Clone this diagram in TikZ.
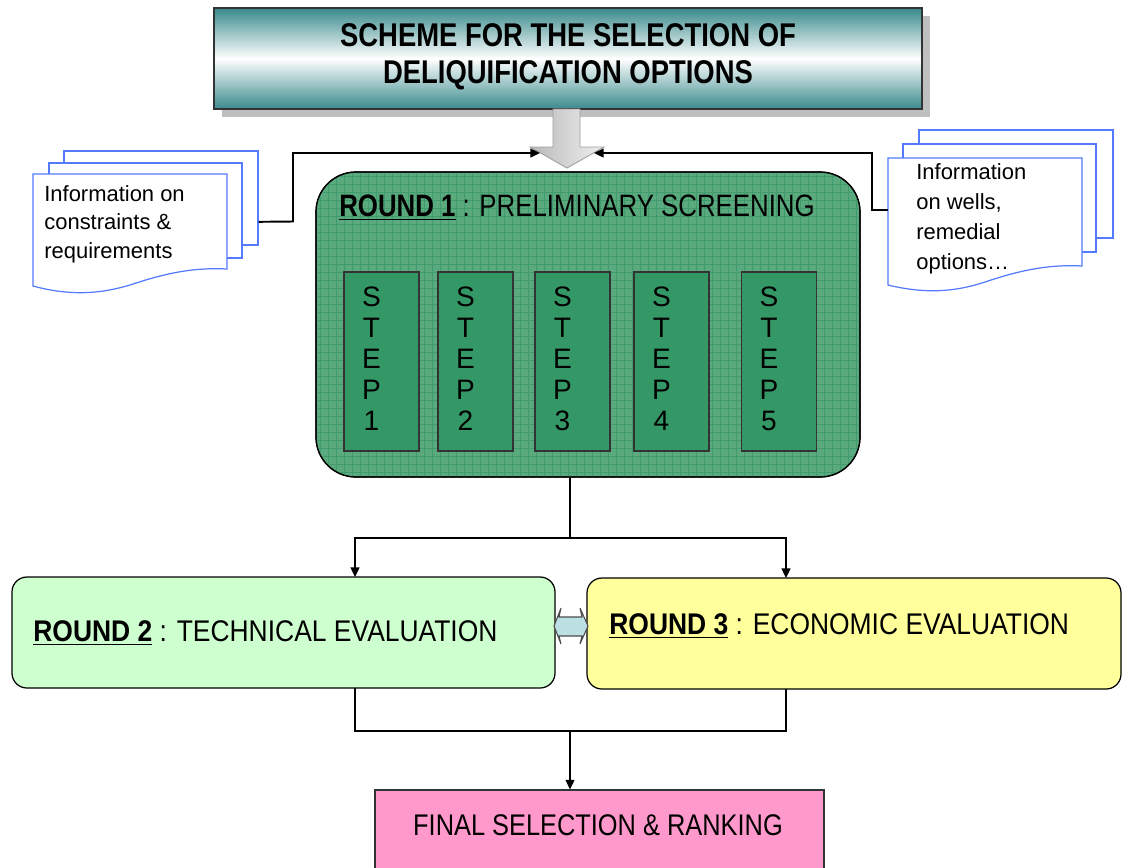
\documentclass[tikz,border=0pt]{standalone}
\usepackage{fontspec}
\usepackage{graphicx}
\setmainfont{Liberation Sans}
\usetikzlibrary{arrows.meta,calc}

\definecolor{titleteal}{RGB}{58,138,140}
\definecolor{roundonefill}{RGB}{90,170,126}
\definecolor{roundonegrid}{RGB}{64,156,110}
\definecolor{stepfill}{RGB}{52,152,102}
\definecolor{roundtwofill}{RGB}{206,255,206}
\definecolor{roundthreefill}{RGB}{255,255,156}
\definecolor{finalfill}{RGB}{255,153,204}
\definecolor{docblue}{RGB}{84,122,255}
\definecolor{linkfill}{RGB}{188,224,228}

% horizontally condensed text
\newcommand\hsq[2][0.84]{\scalebox{#1}[1]{#2}}
\newcommand\fsz[2]{\fontsize{#1pt}{#2pt}\selectfont}

\begin{document}
\begin{tikzpicture}[x=0.02cm,y=-0.02cm,
  pxbox/.style 2 args={minimum width=#1*0.02cm, minimum height=#2*0.02cm, inner sep=0pt},
  titlebox/.style={draw=black!80, line width=0.6pt, top color=titleteal, bottom color=titleteal, middle color=white},
  shadowbox/.style={fill=gray!50, draw=none},
  docsheet/.style={draw=docblue, fill=white, line width=0.7pt},
  doctext/.style={font=\fsz{12.5}{16.3}, align=left, anchor=west, inner sep=0pt},
  roundone/.style={draw=black, line width=0.7pt, fill=roundonefill, rounded corners=22.7pt},
  stepbox/.style={draw=black!80, fill=stepfill, line width=0.6pt},
  steptext/.style={font=\fsz{16}{17.6}, align=center, inner sep=0pt},
  evalbox/.style={draw=black, line width=0.7pt, rounded corners=8.5pt},
  evaltext/.style={font=\fsz{17}{20}, anchor=west, inner sep=0pt},
  finalbox/.style={draw=black!80, fill=finalfill, line width=0.6pt},
  link/.style={draw=black, line width=1.1pt},
  tip/.style={-{Triangle[length=5.5pt,width=5pt]}},
  bigarrow/.style={draw=gray!75, line width=0.5pt, left color=gray!55, right color=gray!12},
  linkarrow/.style={draw=black!70, line width=0.6pt, fill=linkfill}
]
\useasboundingbox (0,0) rectangle (1122,867);

% ---- title ----
\fill[shadowbox] (222,16) rectangle (930,117);
\node[titlebox, pxbox={708}{101}] (title) at (568,58.5) {};
\node[font=\fsz{18.7}{21}\bfseries, align=center, inner sep=0pt] (titletext) at (568,56.5)
  {\hsq[0.835]{SCHEME FOR THE SELECTION OF}\\\hsq[0.835]{DELIQUIFICATION OPTIONS}};

% ---- big downward arrow ----
\draw[bigarrow] (553,109) -- (580,109) -- (580,147) -- (604,147) -- (567,168) -- (530,147) -- (553,147) -- cycle;
\coordinate (inL) at (540,153);
\coordinate (inR) at (594,153);

% ---- left information sheets ----
\node[docsheet, pxbox={194}{94}] (lsheetA) at (161,198) {};
\node[docsheet, pxbox={193}{95}] (lsheetB) at (145.5,210.5) {};
\draw[docsheet] (33,174) -- (227,174) -- (227,269)
  .. controls (190,267) and (160,275) .. (130,285)
  .. controls (100,294) and (70,296) .. (33,286) -- cycle;
\node[doctext] (ltext) at (44,224) {Information on\\constraints \&\\requirements};

% ---- right information sheets ----
\node[docsheet, pxbox={194}{108}] (rsheetA) at (1016,184) {};
\node[docsheet, pxbox={193}{108}] (rsheetB) at (999.5,198) {};
\draw[docsheet] (888,158) -- (1082,158) -- (1082,266)
  .. controls (1045,264) and (1015,272) .. (985,282)
  .. controls (955,292) and (925,294) .. (888,285) -- cycle;
\coordinate (rsheet) at (888,210);
\node[doctext, font=\fsz{12.5}{17}] (rtext) at (916,219) {Information\\on wells,\\remedial\\options…};

% ---- feeds into the selection scheme ----
\draw[link, tip] ($(lsheetA.south east)!0.25!(lsheetA.north east)$) -- (293,221.5) -- (293,153) -- (inL);
\draw[link, tip] (rsheet) -- (872,210) -- (872,153) -- (inR);

% ---- round 1 ----
\node[roundone, pxbox={544}{305}] (r1) at (588,324.5) {};
\begin{scope}
  \clip[rounded corners=22.7pt] (316.5,172.5) rectangle (859.5,476.5);
  \draw[roundonegrid, line width=0.3pt] (316,172) grid[step=0.16cm] (860,477);
\end{scope}
\draw[draw=black, line width=0.7pt, rounded corners=22.7pt] (316,172) rectangle (860,477);
\node[evaltext, font=\fsz{17.6}{20}] (r1text) at (339,208)
  {\hsq[0.835]{\underline{\textbf{ROUND 1}} : PRELIMINARY SCREENING}};

\foreach \n/\x in {1/381.5, 2/475.5, 3/572.5, 4/671.5, 5/779} {
  \node[stepbox, pxbox={75}{179}] (step\n) at (\x,361.5) {};
  \node[steptext] (step\n text) at (\x-10,359) {S\\T\\E\\P\\\n};
}

% ---- rounds 2 and 3 ----
\node[evalbox, fill=roundtwofill, pxbox={543}{111}] (r2) at (283.5,632.5) {};
\node[evaltext] (r2text) at (33,633)
  {\hsq[0.885]{\underline{\textbf{ROUND 2}} : TECHNICAL EVALUATION}};
\node[evalbox, fill=roundthreefill, pxbox={534}{111}] (r3) at (854,633.5) {};
\node[evaltext] (r3text) at (609,626)
  {\hsq[0.885]{\underline{\textbf{ROUND 3}} : ECONOMIC EVALUATION}};

% two-way link between rounds 2 and 3
\draw[linkarrow] (554,626) -- (561,608) -- (559,617) -- (582,617) -- (580,608) -- (588,626)
  -- (580,644) -- (582,636) -- (559,636) -- (561,644) -- cycle;

% ---- final ----
\node[finalbox, pxbox={449}{100}] (final) at (599.5,840) {};
\node[font=\fsz{17}{20}, inner sep=0pt] (finaltext) at (598,825)
  {\hsq[0.85]{FINAL SELECTION \& RANKING}};

% ---- flow connectors ----
\coordinate (split) at (570,538);
\coordinate (r2in) at (355,577);
\coordinate (r3in) at (786,578);
\coordinate (r2out) at (355,688);
\coordinate (r3out) at (786,689);
\coordinate (join) at (570,731);
\draw[link] (r1.south -| split) -- (split);
\draw[link, tip] (split) -| (r2in);
\draw[link, tip] (split) -| (r3in);
\draw[link] (r2out) |- (join) -| (r3out);
\draw[link, tip] (join) -- (final.north -| join);
\end{tikzpicture}
\end{document}
